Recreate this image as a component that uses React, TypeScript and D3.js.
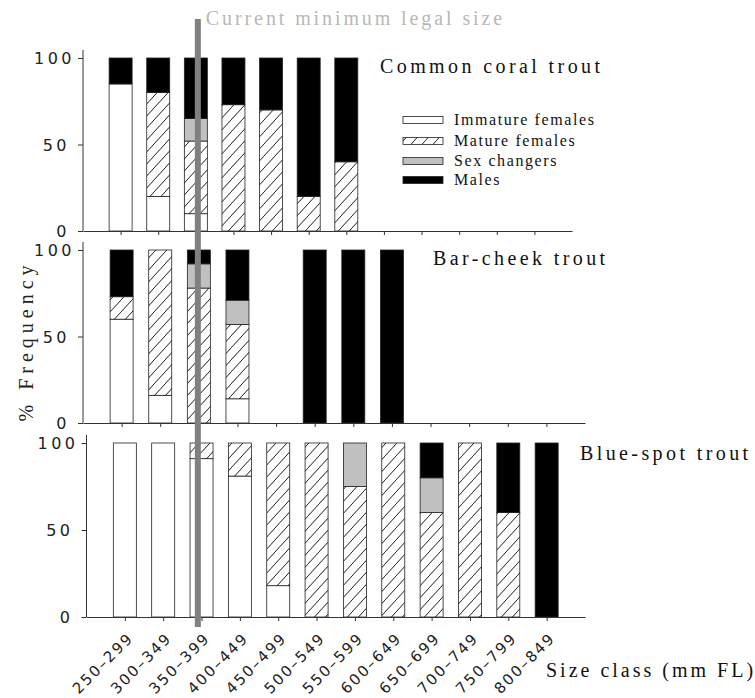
import React, { useRef, useEffect } from "react";
import * as d3 from "d3";

const sizeClasses = [
  "250–299", "300–349", "350–399", "400–449", "450–499", "500–549",
  "550–599", "600–649", "650–699", "700–749", "750–799", "800–849",
];
const stageNames = ["Immature females", "Mature females", "Sex changers", "Males"];

// Common coral trout (% frequency per size class)
const coralImmature = [85, 20, 10, 0, 0, 0, 0, 0, 0, 0, 0, 0];
const coralMature = [0, 60, 42, 73, 70, 20, 40, 0, 0, 0, 0, 0];
const coralChangers = [0, 0, 13, 0, 0, 0, 0, 0, 0, 0, 0, 0];
const coralMales = [15, 20, 35, 27, 30, 80, 60, 0, 0, 0, 0, 0];

// Bar-cheek trout
const barcheekImmature = [60, 16, 0, 14, 0, 0, 0, 0, 0, 0, 0, 0];
const barcheekMature = [13, 84, 78, 43, 0, 0, 0, 0, 0, 0, 0, 0];
const barcheekChangers = [0, 0, 14, 14, 0, 0, 0, 0, 0, 0, 0, 0];
const barcheekMales = [27, 0, 8, 29, 0, 100, 100, 100, 0, 0, 0, 0];

// Blue-spot trout
const bluespotImmature = [100, 100, 91, 81, 18, 0, 0, 0, 0, 0, 0, 0];
const bluespotMature = [0, 0, 9, 19, 82, 100, 75, 100, 60, 100, 60, 0];
const bluespotChangers = [0, 0, 0, 0, 0, 0, 25, 0, 20, 0, 0, 0];
const bluespotMales = [0, 0, 0, 0, 0, 0, 0, 0, 20, 0, 40, 100];

const yTicks = [0, 50, 100];

const species = [
  { title: "Common coral trout", series: [coralImmature, coralMature, coralChangers, coralMales] },
  { title: "Bar-cheek trout", series: [barcheekImmature, barcheekMature, barcheekChangers, barcheekMales] },
  { title: "Blue-spot trout", series: [bluespotImmature, bluespotMature, bluespotChangers, bluespotMales] },
];

// layout of each panel
const layout = [
  { x0: 83, x1: 572, top: 58, bottom: 231, tx: 380, ty: 73 },
  { x0: 83, x1: 585, top: 250, bottom: 423, tx: 433, ty: 265 },
  { x0: 86.5, x1: 585, top: 443, bottom: 617, tx: 580, ty: 460 },
];

const fills = ["#ffffff", "url(#hatch)", "#c0c0c0", "#000000"];
const serif = "'Liberation Serif', serif";
const sans = "'DejaVu Sans', sans-serif";

const App: React.FC = () => {
  const svgRef = useRef<SVGSVGElement | null>(null);

  useEffect(() => {
    if (!svgRef.current) return;
    const svg = d3.select(svgRef.current);
    svg.selectAll("*").remove();

    const defs = svg.append("defs");
    const pat = defs
      .append("pattern")
      .attr("id", "hatch")
      .attr("patternUnits", "userSpaceOnUse")
      .attr("width", 11)
      .attr("height", 12);
    pat.append("rect").attr("width", 11).attr("height", 12).attr("fill", "#fff");
    pat.append("path")
      .attr("d", "M-1,13 L12,-1")
      .attr("stroke", "#000")
      .attr("stroke-width", 0.9);

    const keys = [0, 1, 2, 3];

    species.forEach((sp, p) => {
      const L = layout[p];
      const x = d3.scaleLinear().domain([0, sizeClasses.length + 1]).range([L.x0, L.x1]);
      const y = d3.scaleLinear().domain([0, 100]).range([L.bottom, L.top]);
      const bw = 23;
      const g = svg.append("g");

      const rows = sizeClasses.map((c, i) => {
        const r: any = { cls: c, i };
        keys.forEach((k) => (r[k] = sp.series[k][i]));
        return r;
      });
      const stack = d3.stack<any>().keys(keys.map(String))(rows);

      stack.forEach((layer, k) => {
        g.append("g")
          .selectAll("rect")
          .data(layer.filter((d) => d[1] - d[0] > 0))
          .enter()
          .append("rect")
          .attr("x", (d) => x(d.data.i + 1) - bw / 2)
          .attr("y", (d) => y(d[1]))
          .attr("width", bw)
          .attr("height", (d) => y(d[0]) - y(d[1]))
          .attr("fill", fills[k])
          .attr("stroke", "#222")
          .attr("stroke-width", 0.8);
      });

      // y axis
      g.append("line")
        .attr("x1", L.x0).attr("x2", L.x0)
        .attr("y1", y(0)).attr("y2", y(100) - 8)
        .attr("stroke", "#333");
      const yAxis = g.append("g")
        .attr("transform", `translate(${L.x0},0)`)
        .call(d3.axisLeft(y).tickValues(yTicks).tickSize(5).tickPadding(8));
      yAxis.select(".domain").remove();
      yAxis.selectAll("line").attr("stroke", "#333");
      yAxis.selectAll("text")
        .attr("font-family", sans)
        .attr("font-size", 16)
        .attr("letter-spacing", 3.5)
        .attr("fill", "#222")
        .attr("dy", "0.36em");
      // "100" sits a little further right in the reference
      yAxis.selectAll("text").filter((d) => d === 100).attr("dx", 5);

      // x axis
      const xAxis = g.append("g")
        .attr("transform", `translate(0,${L.bottom})`)
        .call(
          d3.axisBottom(x)
            .tickValues(d3.range(1, sizeClasses.length + 1))
            .tickSize(4)
            .tickSizeOuter(0)
            .tickFormat((d) => sizeClasses[(d as number) - 1])
        );
      xAxis.select(".domain").attr("stroke", "#333");
      xAxis.selectAll("line").attr("stroke", "#333");
      if (p < 2) {
        xAxis.selectAll("text").remove();
      } else {
        xAxis.selectAll("text")
          .attr("font-family", sans)
          .attr("font-size", 15)
          .attr("letter-spacing", 2)
          .attr("fill", "#222")
          .attr("text-anchor", "end")
          .attr("dy", 0)
          .attr("y", 0)
          .attr("transform", "translate(9,22) rotate(-45)");
      }

      g.append("text")
        .attr("x", L.tx)
        .attr("y", L.ty)
        .attr("font-family", serif)
        .attr("font-size", 20)
        .attr("letter-spacing", 3.4)
        .attr("fill", "#111")
        .text(sp.title);
    });

    // legend
    const leg = svg.append("g").attr("transform", "translate(403,120)");
    stageNames.forEach((name, k) => {
      const row = leg.append("g").attr("transform", `translate(0,${[0, 21, 41, 60][k]})`);
      row.append("rect")
        .attr("x", 0).attr("y", -3.5)
        .attr("width", 40).attr("height", 7)
        .attr("fill", fills[k])
        .attr("stroke", "#222")
        .attr("stroke-width", 0.8);
      row.append("text")
        .attr("x", 51).attr("y", 5)
        .attr("font-family", serif)
        .attr("font-size", 16)
        .attr("letter-spacing", 1.6)
        .attr("fill", "#111")
        .text(name);
    });

    // current minimum legal size marker
    const xLegal = d3.scaleLinear().domain([0, sizeClasses.length + 1]).range([layout[0].x0, layout[0].x1]);
    const lx = xLegal(3) + 2;
    svg.append("line")
      .attr("x1", lx).attr("x2", lx)
      .attr("y1", 19).attr("y2", 627)
      .attr("stroke", "#808080")
      .attr("stroke-width", 6);
    svg.append("text")
      .attr("x", lx + 8)
      .attr("y", 25)
      .attr("font-family", serif)
      .attr("font-size", 20)
      .attr("letter-spacing", 2.9)
      .attr("fill", "#b8b8b8")
      .text("Current minimum legal size");

    // axis titles
    svg.append("text")
      .attr("transform", "translate(33,341) rotate(-90)")
      .attr("text-anchor", "middle")
      .attr("font-family", serif)
      .attr("font-size", 20)
      .attr("letter-spacing", 5)
      .attr("fill", "#222")
      .text("% Frequency");
    svg.append("text")
      .attr("x", 546)
      .attr("y", 677)
      .attr("font-family", serif)
      .attr("font-size", 20)
      .attr("letter-spacing", 3)
      .attr("fill", "#111")
      .text("Size class (mm FL)");
  }, []);

  return (
    <svg
      ref={svgRef}
      width={755}
      height={698}
      style={{ position: "absolute", left: 0, top: 0, background: "#fff" }}
    />
  );
};

export default App;
